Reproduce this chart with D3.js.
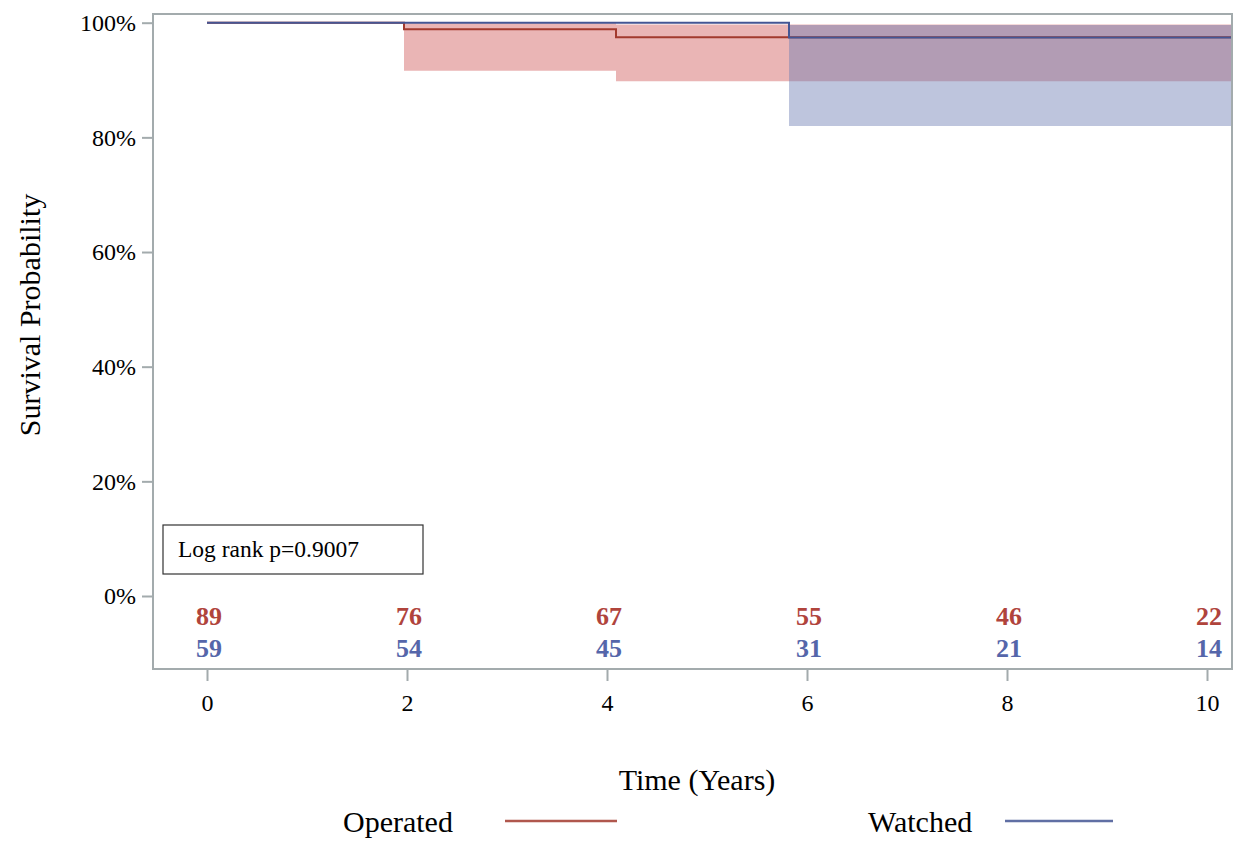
<!DOCTYPE html>
<html lang="en">
  <head>
    <meta charset="utf-8">
    <title>Survival Probability</title>
    <style>
      body { margin: 0; background: #fff; }
      text { font-family: 'Liberation Serif', 'Times New Roman', serif; }
    </style>
  </head>
  <body>
    <svg width="1237" height="842"></svg>
    <script src="https://cdn.jsdelivr.net/npm/d3@7"></script>
    <script>
      // --- data ---
      const groups = ['Operated', 'Watched'];
      const op_time = [0, 1.97, 4.09];
      const op_surv = [1.0, 0.9885, 0.9745];
      const op_lcl = [1.0, 0.916, 0.898];
      const op_ucl = [1.0, 0.999, 0.997];
      const w_time = [0, 5.82];
      const w_surv = [1.0, 0.974];
      const w_lcl = [1.0, 0.82];
      const w_ucl = [1.0, 0.996];
      const end_time = 10.25;

      const risk_times = [0, 2, 4, 6, 8, 10];
      const op_risk = [89, 76, 67, 55, 46, 22];
      const w_risk = [59, 54, 45, 31, 21, 14];

      const x_ticks = [0, 2, 4, 6, 8, 10];
      const y_ticks = [0, 0.2, 0.4, 0.6, 0.8, 1.0];
      const p_label = 'Log rank p=0.9007';

      const svg = d3.select('svg');

      const frame = {left: 153, right: 1232, top: 14, bottom: 669};

      const x_scale = d3.scaleLinear().domain([0, 10]).range([207, 1207]);
      const y_scale = d3.scaleLinear().domain([0, 1]).range([596, 22.7]);

      const line_col = {Operated: '#a23a2e', Watched: '#445694'};
      const fill_col = {Operated: '#d05b5b', Watched: '#6f7eb3'};
      const num_col = {Operated: '#b0443c', Watched: '#5566aa'};

      // build point lists for the step curves
      const make_pts = (t, s, lo, hi) => {
        const pts = t.map((d, i) => ({t: d, s: s[i], lo: lo[i], hi: hi[i]}));
        const last = pts[pts.length - 1];
        pts.push({t: end_time, s: last.s, lo: last.lo, hi: last.hi});
        return pts;
      };
      const series = [
        {name: 'Operated', pts: make_pts(op_time, op_surv, op_lcl, op_ucl)},
        {name: 'Watched', pts: make_pts(w_time, w_surv, w_lcl, w_ucl)}
      ];

      // confidence bands (skip the first, zero-width part at 100%)
      const band = d3.area()
        .curve(d3.curveStepAfter)
        .x(d => x_scale(d.t))
        .y0(d => y_scale(d.lo))
        .y1(d => y_scale(d.hi));

      svg.append('g').selectAll('path')
        .data(series).enter()
        .append('path')
          .attr('d', d => band(d.pts.slice(1)))
          .attr('fill', d => fill_col[d.name])
          .attr('fill-opacity', 0.45);

      // step lines
      const step = d3.line()
        .curve(d3.curveStepAfter)
        .x(d => x_scale(d.t))
        .y(d => y_scale(d.s));

      svg.append('g').selectAll('path')
        .data(series).enter()
        .append('path')
          .attr('d', d => step(d.pts))
          .attr('fill', 'none')
          .attr('stroke', d => line_col[d.name])
          .attr('stroke-width', 2);

      // frame
      svg.append('rect')
        .attr('x', frame.left)
        .attr('y', frame.top)
        .attr('width', frame.right - frame.left)
        .attr('height', frame.bottom - frame.top)
        .attr('fill', 'none')
        .attr('stroke', '#a3abad')
        .attr('stroke-width', 2);

      // y axis
      const y_axis = d3.axisLeft(y_scale)
        .tickValues(y_ticks)
        .tickFormat(d3.format('.0%'))
        .tickSize(11)
        .tickPadding(6);
      const y_axis_g = svg.append('g')
        .attr('transform', `translate(${frame.left},0)`)
        .call(y_axis);

      // x axis
      const x_axis = d3.axisBottom(x_scale)
        .tickValues(x_ticks)
        .tickSize(12)
        .tickPadding(13);
      const x_axis_g = svg.append('g')
        .attr('transform', `translate(0,${frame.bottom})`)
        .call(x_axis);

      [y_axis_g, x_axis_g].forEach(g => {
        g.select('.domain').remove();
        g.selectAll('.tick line').attr('stroke', '#a3abad').attr('stroke-width', 2);
        g.selectAll('.tick text')
          .attr('fill', '#000')
          .style('font-family', "'Liberation Serif', serif")
          .style('font-size', '24px');
      });

      // numbers at risk
      const risk_rows = [
        {name: 'Operated', vals: op_risk, y: 625},
        {name: 'Watched', vals: w_risk, y: 657}
      ];
      risk_rows.forEach(row => {
        svg.append('g').selectAll('text')
          .data(row.vals).enter()
          .append('text')
            .attr('x', (d, i) => x_scale(risk_times[i]) + 2)
            .attr('y', row.y)
            .attr('text-anchor', 'middle')
            .attr('font-size', '26px')
            .attr('font-weight', 'bold')
            .attr('fill', num_col[row.name])
            .text(d => d);
      });

      // log rank box
      svg.append('rect')
        .attr('x', 163)
        .attr('y', 525)
        .attr('width', 260)
        .attr('height', 49)
        .attr('fill', '#fff')
        .attr('stroke', '#333')
        .attr('stroke-width', 1.2);
      svg.append('text')
        .attr('x', 178)
        .attr('y', 557)
        .attr('font-size', '23.5px')
        .attr('fill', '#000')
        .text(p_label);

      // axis titles
      svg.append('text')
        .attr('transform', 'translate(40,315) rotate(-90)')
        .attr('text-anchor', 'middle')
        .attr('font-size', '30px')
        .attr('fill', '#000')
        .text('Survival Probability');
      svg.append('text')
        .attr('x', 697)
        .attr('y', 790)
        .attr('text-anchor', 'middle')
        .attr('font-size', '30px')
        .attr('fill', '#000')
        .text('Time (Years)');

      // legend
      const legend_pos = [
        {name: 'Operated', tx: 343, lx1: 505, lx2: 617},
        {name: 'Watched', tx: 868, lx1: 1005, lx2: 1113}
      ];
      const legend_g = svg.append('g');
      legend_pos.forEach(l => {
        legend_g.append('text')
          .attr('x', l.tx)
          .attr('y', 832)
          .attr('font-size', '30px')
          .attr('fill', '#000')
          .text(l.name);
        legend_g.append('line')
          .attr('x1', l.lx1)
          .attr('x2', l.lx2)
          .attr('y1', 821)
          .attr('y2', 821)
          .attr('stroke', line_col[l.name])
          .attr('stroke-opacity', 0.85)
          .attr('stroke-width', 2.5);
      });
    </script>
  </body>
</html>
